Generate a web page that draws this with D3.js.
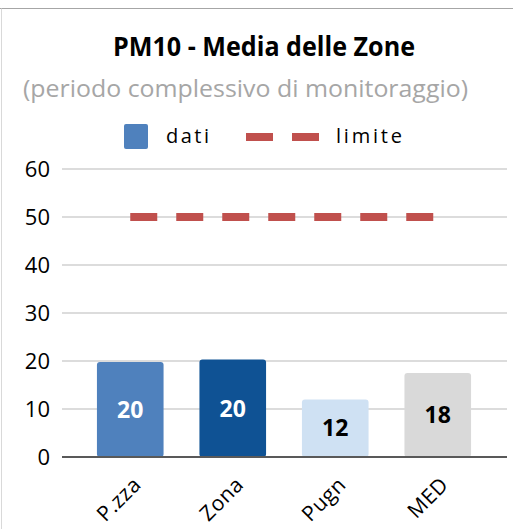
<!DOCTYPE html>
<html>
<head>
<meta charset="utf-8">
<script src="https://cdn.jsdelivr.net/npm/d3@7"></script>
<style>
  body { margin: 0; background: #fff; }
  svg { display: block; font-family: "Open Sans", "Noto Sans", sans-serif; }
</style>
</head>
<body>
<div id="chart"></div>
<script>
  // chart data
  var categories = ["P.zza", "Zona", "Pugn", "MED"];
  var values = [19.8, 20.3, 12, 17.5];
  var limit = [50, 50, 50, 50];
  var yTicks = [0, 10, 20, 30, 40, 50, 60];
  var barColors = ["#4f81bd", "#0f5294", "#cfe1f3", "#d9d9d9"];
  var labelColors = ["#fff", "#fff", "#000", "#000"];

  var W = 513, H = 529;
  var svg = d3.select('#chart')
      .append('svg')
      .attr('width', W)
      .attr('height', H);

  // frame
  svg.append('line').attr('x1', 0).attr('x2', W).attr('y1', 8.5).attr('y2', 8.5)
    .style('stroke', '#a6a6a6').style('stroke-width', 1);
  svg.append('line').attr('x1', 1.5).attr('x2', 1.5).attr('y1', 8.5).attr('y2', H)
    .style('stroke', '#d9d9d9').style('stroke-width', 1);

  // titles
  svg.append('text')
    .attr('x', 264).attr('y', 56)
    .attr('text-anchor', 'middle')
    .attr('textLength', 302).attr('lengthAdjust', 'spacingAndGlyphs')
    .style('font-size', '26px').style('font-weight', 'bold')
    .text('PM10 - Media delle Zone');
  svg.append('text')
    .attr('x', 245.5).attr('y', 97)
    .attr('text-anchor', 'middle')
    .attr('textLength', 445).attr('lengthAdjust', 'spacingAndGlyphs')
    .style('font-size', '23px').style('fill', '#a6a6a6')
    .text('(periodo complessivo di monitoraggio)');

  // scales
  var y = d3.scaleLinear().domain([0, 60]).range([457, 169]);
  var x = d3.scaleBand().domain(categories).range([79, 489])
      .paddingInner(0.35).paddingOuter(0.175);
  var gridX0 = 62, gridX1 = 507;

  // gridlines
  svg.append('g').selectAll('line')
    .data(yTicks.filter(function(d) { return d > 0; }))
    .enter().append('line')
    .attr('x1', gridX0).attr('x2', gridX1)
    .attr('y1', function(d) { return y(d); })
    .attr('y2', function(d) { return y(d); })
    .style('stroke', '#d0d0d0').style('stroke-width', 1.5);

  // y axis labels
  var yAxis = d3.axisLeft(y).tickValues(yTicks).tickSize(0).tickPadding(0);
  var gy = svg.append('g').attr('transform', 'translate(50,0)').call(yAxis);
  gy.select('.domain').remove();
  gy.selectAll('text')
    .style('font-size', '22px').style('fill', '#000')
    .style('font-family', '"Open Sans", "Noto Sans", sans-serif');

  // bars
  svg.append('g').selectAll('rect')
    .data(values)
    .enter().append('rect')
    .attr('x', function(d, i) { return x(categories[i]); })
    .attr('y', function(d) { return y(d); })
    .attr('width', x.bandwidth())
    .attr('height', function(d) { return y(0) - y(d); })
    .attr('rx', 3)
    .style('fill', function(d, i) { return barColors[i]; });

  // zero axis line
  svg.append('line')
    .attr('x1', gridX0).attr('x2', gridX1)
    .attr('y1', y(0)).attr('y2', y(0))
    .style('stroke', '#595959').style('stroke-width', 2);

  // bar value labels
  svg.append('g').selectAll('text')
    .data(values)
    .enter().append('text')
    .attr('x', function(d, i) { return x(categories[i]) + x.bandwidth() / 2; })
    .attr('y', function(d) { return (y(d) + y(0)) / 2; })
    .attr('dy', '0.36em')
    .attr('text-anchor', 'middle')
    .style('font-size', '23px').style('font-weight', 'bold')
    .style('fill', function(d, i) { return labelColors[i]; })
    .text(function(d) { return Math.round(d); });

  // limit line
  var line = d3.line()
    .x(function(d, i) { return x(categories[i]) + x.bandwidth() / 2; })
    .y(function(d) { return y(d); });
  svg.append('path')
    .datum(limit)
    .attr('d', line)
    .style('fill', 'none')
    .style('stroke', '#c0504d')
    .style('stroke-width', 8)
    .style('stroke-dasharray', '27,19');

  // x labels
  svg.append('g').selectAll('text')
    .data(categories)
    .enter().append('text')
    .attr('transform', function(d) {
      return 'translate(' + (x(d) + x.bandwidth() / 2 + 12) + ',486) rotate(-45)';
    })
    .attr('text-anchor', 'end')
    .style('font-size', '21px').style('letter-spacing', '0.5px')
    .text(function(d) { return d; });

  // legend
  var legend = svg.append('g');
  legend.append('rect')
    .attr('x', 124).attr('y', 124).attr('width', 24).attr('height', 25).attr('rx', 2)
    .style('fill', '#4f81bd');
  legend.append('text')
    .attr('x', 166).attr('y', 143)
    .attr('textLength', 43)
    .style('font-size', '20px')
    .text('dati');
  legend.append('line')
    .attr('x1', 246).attr('x2', 319).attr('y1', 137).attr('y2', 137)
    .style('stroke', '#c0504d').style('stroke-width', 8)
    .style('stroke-dasharray', '27,19');
  legend.append('text')
    .attr('x', 336).attr('y', 143)
    .attr('textLength', 66)
    .style('font-size', '20px')
    .text('limite');
</script>
</body>
</html>
